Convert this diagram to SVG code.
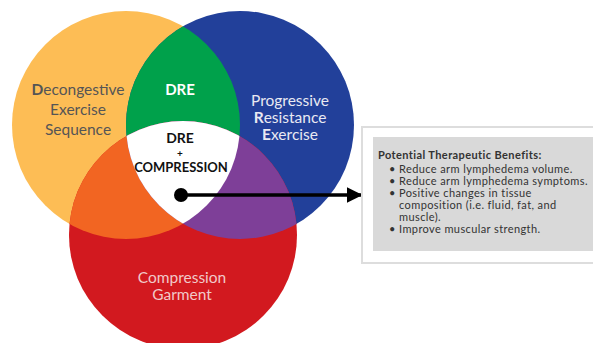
<svg xmlns="http://www.w3.org/2000/svg" width="593" height="343" viewBox="0 0 593 343">
<style>
.lbl{font-family:Lato,"Open Sans","Liberation Sans",sans-serif;font-size:15.5px;text-anchor:middle}
.grey{fill:#555555}
.light{fill:#e9e9f2}
.pink{fill:#f1c9c9}
.hd{font-family:Lato,"Open Sans","Liberation Sans",sans-serif;font-weight:bold;text-anchor:middle}
.box{font-family:Lato,"Open Sans","Liberation Sans",sans-serif;font-size:11px;letter-spacing:0.4px;fill:#333333}
</style>
<defs>
<clipPath id="cY"><circle cx="126" cy="125" r="114"/></clipPath>
<clipPath id="cB"><circle cx="240" cy="125" r="114"/></clipPath>
<clipPath id="cR"><circle cx="183" cy="235" r="114"/></clipPath>
<marker id="arr" viewBox="0 0 10 10" refX="9" refY="5" markerWidth="4.5" markerHeight="4.5" orient="auto" markerUnits="strokeWidth">
<path d="M0,0 L10,5 L0,10 z" fill="#000"/>
</marker>
</defs>
<rect width="593" height="343" fill="#ffffff"/>
<g id="yellow"><circle cx="126" cy="125" r="114" fill="#fdbd55"/></g>
<g id="blue"><circle cx="240" cy="125" r="114" fill="#22409a"/></g>
<g id="red"><circle cx="183" cy="235" r="114" fill="#d2191f"/></g>
<g id="green" clip-path="url(#cY)"><circle cx="240" cy="125" r="114" fill="#00a14b"/></g>
<g id="orange" clip-path="url(#cY)"><circle cx="183" cy="235" r="114" fill="#f26522"/></g>
<g id="purple" clip-path="url(#cB)"><circle cx="183" cy="235" r="114" fill="#7e3f98"/></g>
<g id="center" clip-path="url(#cR)"><g clip-path="url(#cY)"><circle cx="240" cy="125" r="114" fill="#ffffff"/></g></g>

<g id="dre-label"><text class="lbl grey" x="78" y="95"><tspan font-weight="bold">D</tspan>econgestive</text>
<text class="lbl grey" x="78" y="115">Exercise</text>
<text class="lbl grey" x="78" y="135">Sequence</text></g>
<g id="pre-label"><text class="lbl light" x="290" y="106">Progressive</text>
<text class="lbl light" x="290" y="123"><tspan font-weight="bold">R</tspan>esistance</text>
<text class="lbl light" x="290" y="140"><tspan font-weight="bold">E</tspan>xercise</text></g>
<g id="cg-label"><text class="lbl pink" x="182" y="283">Compression</text>
<text class="lbl pink" x="182" y="300">Garment</text></g>
<g id="dre-green"><text class="hd" x="180" y="95" font-size="15" fill="#ffffff">DRE</text></g>
<g id="dre-comp"><text class="hd" x="180" y="143" font-size="14" fill="#111">DRE</text>
<text class="hd" x="180" y="157" font-size="10" fill="#111">+</text>
<text class="hd" x="181" y="172" font-size="13" fill="#111">COMPRESSION</text></g>

<g id="connectors">
<circle cx="181" cy="195" r="7" fill="#000"/>
<line x1="181" y1="195" x2="361" y2="195" stroke="#000" stroke-width="3.5" marker-end="url(#arr)"/>
</g>

<g id="benefits">
<rect x="362" y="127" width="240" height="136" fill="#ffffff" stroke="#dddddd" stroke-width="2"/>
<rect x="373" y="137" width="230" height="114" fill="#d9d9d9"/>
<text class="box" x="378" y="159" font-weight="bold" fill="#222" letter-spacing="0.5">Potential Therapeutic Benefits:</text>
<text class="box" x="389" y="173">•</text><text class="box" x="399" y="173">Reduce arm lymphedema volume.</text>
<text class="box" x="389" y="185">•</text><text class="box" x="399" y="185">Reduce arm lymphedema symptoms.</text>
<text class="box" x="389" y="197">•</text><text class="box" x="399" y="197">Positive changes in tissue</text>
<text class="box" x="399" y="209">composition (i.e. fluid, fat, and</text>
<text class="box" x="399" y="221">muscle).</text>
<text class="box" x="389" y="233">•</text><text class="box" x="399" y="233">Improve muscular strength.</text>
</g>
</svg>
